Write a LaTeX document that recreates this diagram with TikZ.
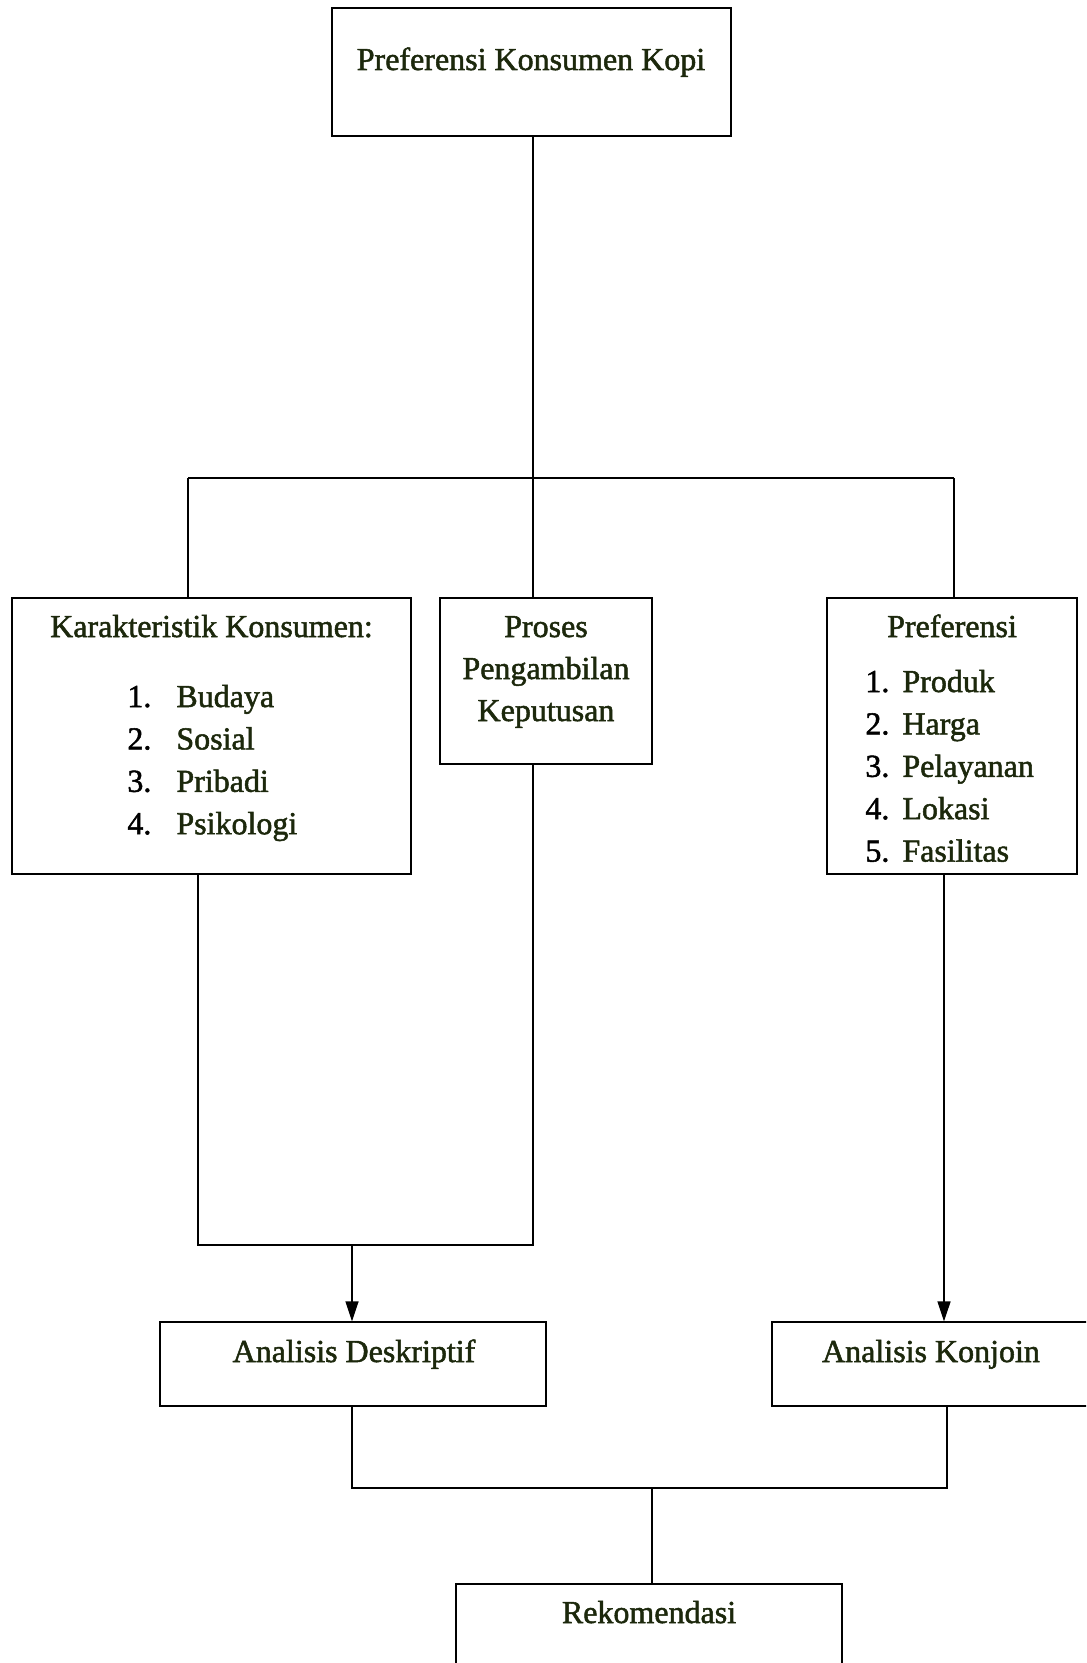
\documentclass[tikz,border=0pt]{standalone}
\usepackage{fontspec}
\setmainfont{Liberation Serif}
\newfontfamily\inkfont[FakeBold=1.6]{Liberation Serif}
\usepackage{xcolor}
\usepackage{tikz}
\usetikzlibrary{arrows.meta,positioning}
\definecolor{ink}{RGB}{28,40,12}
\tikzset{>={Triangle[length=10pt,width=6.5pt]}}
\tikzset{main node/.style={draw,rectangle,line width=0.6pt,inner sep=0pt},
         txt node/.style={inner sep=0pt,anchor=base,text=ink,font=\inkfont\fontsize{16}{21}\selectfont},
         list node/.style={inner sep=0pt,anchor=base west,font=\inkfont\fontsize{16}{21.2}\selectfont},
         link/.style={draw,line width=0.7pt},
            }
\newcommand{\itm}[2]{#1 & \textcolor{ink}{#2}\\}

\begin{document}
\begin{tikzpicture}[x=0.5pt,y=-0.5pt]

    \useasboundingbox (0,0) rectangle (1086,1663);
    \clip (0,0) rectangle (1086,1663);

    % boxes
    \node[main node,minimum width=199.5pt,minimum height=64pt] (kopi) at (531.5,72) {};
    \node[main node,minimum width=199.5pt,minimum height=138pt] (karak) at (211.5,736) {};
    \node[main node,minimum width=106pt,minimum height=83pt] (proses) at (546,681) {};
    \node[main node,minimum width=125pt,minimum height=138pt] (pref) at (952,736) {};
    \node[main node,minimum width=193pt,minimum height=42pt] (deskr) at (353,1364) {};
    \node[main node,minimum width=193pt,minimum height=42pt] (konj) at (965,1364) {};
    \node[main node,minimum width=193pt,minimum height=58pt] (rekom) at (649,1642) {};

    % texts
    \node[txt node] (kopit) at (531,70) {Preferensi Konsumen Kopi};
    \node[txt node] (karakt) at (211.5,637) {Karakteristik Konsumen:};
    \node[list node] (karakl) at (127,707) {\begin{tabular}[t]{@{}p{24.5pt}@{}l@{}}
        \itm{1.}{Budaya}
        \itm{2.}{Sosial}
        \itm{3.}{Pribadi}
        \itm{4.}{Psikologi}
    \end{tabular}};
    \node[txt node] (prosest) at (546,637) {\begin{tabular}[t]{@{}c@{}}
        Proses\\ Pengambilan\\ Keputusan
    \end{tabular}};
    \node[txt node] (preft) at (952,637) {Preferensi};
    \node[list node] (prefl) at (865,692) {\begin{tabular}[t]{@{}p{18.5pt}@{}l@{}}
        \itm{1.}{Produk}
        \itm{2.}{Harga}
        \itm{3.}{Pelayanan}
        \itm{4.}{Lokasi}
        \itm{5.}{Fasilitas}
    \end{tabular}};
    \node[txt node] (deskrt) at (354,1362) {Analisis Deskriptif};
    \node[txt node] (konjt) at (931,1362) {Analisis Konjoin};
    \node[txt node] (rekomt) at (649,1623) {Rekomendasi};

    % junctions
    \coordinate (top) at (533,478);
    \coordinate (topL) at (188,478);
    \coordinate (topR) at (954,478);
    \coordinate (midL) at (198,1245);
    \coordinate (midR) at (533,1245);
    \coordinate (midA) at (352,1245);
    \coordinate (arrR) at (944,1322);
    \coordinate (lowL) at (352,1488);
    \coordinate (lowR) at (947,1488);
    \coordinate (lowM) at (652,1488);

    \path[link]
    (kopi.south -| top) -- (top)
    (topL) -- (topR)
    (topL) -- (topL |- karak.north)
    (top) -- (top |- proses.north)
    (topR) -- (topR |- pref.north);

    \path[link]
    (midL |- karak.south) -- (midL) -- (midR) -- (midR |- proses.south)
    (lowL |- deskr.south) -- (lowL) -- (lowR) -- (lowR |- konj.south)
    (lowM) -- (lowM |- rekom.north);

    \draw[link,->] (midA) -- (midA |- deskr.north);
    \draw[link,->] (arrR |- pref.south) -- (arrR |- konj.north);

\end{tikzpicture}
\end{document}
